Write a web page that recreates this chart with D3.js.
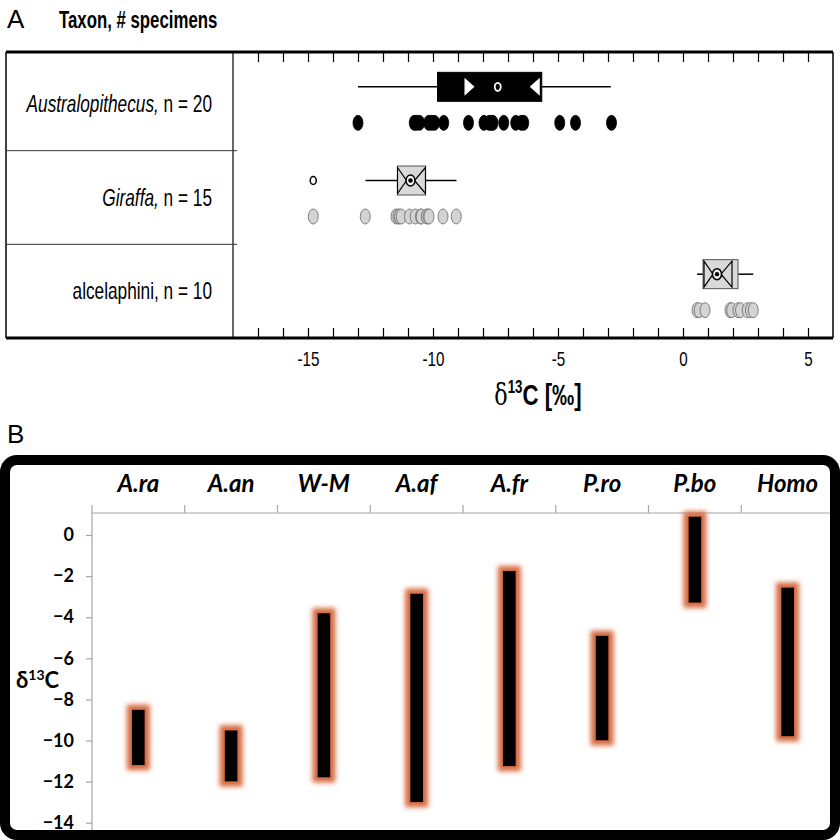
<!DOCTYPE html>
<html>
<head>
<meta charset="utf-8">
<script src="https://cdn.jsdelivr.net/npm/d3@7"></script>
<style>
  body { margin: 0; background: #fff; }
  svg { display: block; }
  .narrow { font-family: "Liberation Sans", Arial, sans-serif; }
  .cal { font-family: Lato, "Open Sans", sans-serif; }
</style>
</head>
<body>
<svg id="chart" width="840" height="840"></svg>
<script>
// ---- panel A data ----
var taxa = ["Australopithecus", "Giraffa", "alcelaphini"];
var taxaItalic = [true, true, false];
var nSpecimens = [20, 15, 10];
var whiskerLo = [-13.0, -12.7, 0.56];
var boxLo = [-9.82, -11.42, 0.80];
var median = [-7.41, -10.90, 1.36];
var boxHi = [-5.65, -10.30, 2.20];
var whiskerHi = [-2.89, -9.06, 2.81];
var notchLo = [-8.82, -11.42, 0.84];
var notchHi = [-5.65, -10.30, 1.96];
var outliers = [[], [-14.79], []];
var australopithecusVals = [-13.0, -10.75, -10.67, -10.54, -10.17, -10.05, -9.94, -9.57, -8.58, -7.96,
  -7.75, -7.67, -7.60, -7.17, -6.69, -6.47, -6.37, -4.93, -4.30, -2.86];
var giraffaVals = [-14.79, -12.71, -11.48, -11.40, -11.34, -11.27, -10.94, -10.71, -10.50, -10.47,
  -10.27, -10.20, -10.16, -9.60, -9.07];
var alcelaphiniVals = [0.56, 0.65, 0.88, 1.88, 1.95, 2.20, 2.30, 2.57, 2.70, 2.81];
var pointSets = [australopithecusVals, giraffaVals, alcelaphiniVals];
var xTickLabels = [-15, -10, -5, 0, 5];

// ---- panel B data ----
var groups = ["A.ra", "A.an", "W-M", "A.af", "A.fr", "P.ro", "P.bo", "Homo"];
var rangeTop = [-8.5, -9.5, -3.8, -2.85, -1.75, -4.9, 0.9, -2.55];
var rangeBottom = [-11.2, -12.0, -11.8, -13.0, -11.25, -10.0, -3.3, -9.8];
var yTicksB = [0, -2, -4, -6, -8, -10, -12, -14];

var svg = d3.select("#chart");

// condensed text: no narrow font installed, so squeeze horizontally
function narrowText(parent, x, y, anchor, size, sx) {
  return parent.append("g").attr("transform", "translate(" + x + "," + y + ") scale(" + sx + ",1)")
    .append("text").attr("class", "narrow").attr("text-anchor", anchor).style("font-size", size + "px");
}

// =========== PANEL A ===========
var aLeft = 6, aDiv = 233, aRight = 833, aTop = 52, aBottom = 338;

var x = d3.scaleLinear().domain([-18, 6]).range([aDiv, aRight]);
var rows = d3.scaleBand().domain(taxa).range([57, aBottom]);
var boxY = function (t) { return rows(t) + rows.bandwidth() / 2 - 17; };
var dotY = function (t) { return rows(t) + rows.bandwidth() / 2 + 19; };

svg.append("text").attr("x", 7).attr("y", 28)
  .style("font-family", "Liberation Sans, sans-serif").style("font-size", "26px").text("A");
narrowText(svg, 59, 28, "start", 24, 0.7).style("font-weight", "bold").text("Taxon, # specimens");

var gA = svg.append("g");

// frame
gA.append("line").attr("x1", aLeft).attr("x2", aRight).attr("y1", aTop).attr("y2", aTop)
  .attr("stroke", "#000").attr("stroke-width", 3);
gA.append("line").attr("x1", aLeft).attr("x2", aRight).attr("y1", aBottom).attr("y2", aBottom)
  .attr("stroke", "#000").attr("stroke-width", 3);
gA.append("line").attr("x1", aLeft).attr("x2", aLeft).attr("y1", aTop).attr("y2", aBottom)
  .attr("stroke", "#000").attr("stroke-width", 1.5);
gA.append("line").attr("x1", aRight).attr("x2", aRight).attr("y1", aTop).attr("y2", aBottom)
  .attr("stroke", "#000").attr("stroke-width", 1.5);
gA.append("line").attr("x1", aDiv).attr("x2", aDiv).attr("y1", aTop).attr("y2", aBottom)
  .attr("stroke", "#000").attr("stroke-width", 1.2);

// row separators
taxa.slice(1).forEach(function (t) {
  gA.append("line").attr("x1", aLeft).attr("x2", aDiv + 4)
    .attr("y1", rows(t)).attr("y2", rows(t)).attr("stroke", "#333").attr("stroke-width", 1);
});

// ticks top and bottom
var xAxisBottom = d3.axisBottom(x).tickValues(d3.range(-17, 6)).tickSize(-10)
  .tickFormat(function (d) { return xTickLabels.indexOf(d) >= 0 ? d : ""; }).tickPadding(14);
var xb = gA.append("g").attr("transform", "translate(0," + aBottom + ")").call(xAxisBottom);
xb.select(".domain").remove();
xb.selectAll(".tick line").attr("stroke", "#000").attr("stroke-width", 1.2);
xb.selectAll(".tick text").attr("class", "narrow").style("font-size", "20px").attr("fill", "#000")
  .attr("transform", "scale(0.76,1)");

var xAxisTop = d3.axisTop(x).tickValues(d3.range(-17, 6)).tickSize(-10).tickFormat("");
var xt = gA.append("g").attr("transform", "translate(0," + aTop + ")").call(xAxisTop);
xt.select(".domain").remove();
xt.selectAll(".tick line").attr("stroke", "#000").attr("stroke-width", 1.2);

// axis title
var title = narrowText(gA, x(-5.8), 405, "middle", 30, 0.74).style("font-weight", "bold");
title.append("tspan").style("font-weight", "normal").style("font-family", "DejaVu Serif, serif").text("δ");
title.append("tspan").attr("dy", -12).style("font-size", "18px").text("13");
title.append("tspan").attr("dy", 12).text("C [‰]");

// row labels
taxa.forEach(function (t, i) {
  var lab = narrowText(gA, 212, rows(t) + rows.bandwidth() / 2 + 8, "end", 23, 0.75);
  lab.append("tspan").style("font-style", taxaItalic[i] ? "italic" : "normal").text(t + ",");
  lab.append("tspan").text("  n = " + nSpecimens[i]);
});

// points
taxa.forEach(function (t, i) {
  var dark = i === 0;
  gA.selectAll(null).data(pointSets[i]).enter().append("ellipse")
    .attr("cx", function (d) { return x(d); }).attr("cy", dotY(t))
    .attr("rx", 5).attr("ry", 7.5)
    .attr("fill", dark ? "#000" : "#d3d3d3")
    .attr("stroke", dark ? "#000" : "#666").attr("stroke-width", 0.8);
});

// boxplots
var boxH = 29;
taxa.forEach(function (t, i) {
  var cy = boxY(t);
  var dark = i === 0;
  var g = gA.append("g");
  g.append("line").attr("x1", x(whiskerLo[i])).attr("x2", x(boxLo[i]))
    .attr("y1", cy).attr("y2", cy).attr("stroke", "#000").attr("stroke-width", 1.5);
  g.append("line").attr("x1", x(boxHi[i])).attr("x2", x(whiskerHi[i]))
    .attr("y1", cy).attr("y2", cy).attr("stroke", "#000").attr("stroke-width", 1.5);
  g.append("rect").attr("x", x(boxLo[i])).attr("y", cy - boxH / 2)
    .attr("width", x(boxHi[i]) - x(boxLo[i])).attr("height", boxH)
    .attr("fill", dark ? "#000" : "#d9d9d9").attr("stroke", dark ? "#000" : "#555").attr("stroke-width", 1);

  // notch triangles
  var xm = x(median[i]);
  [[notchLo[i], 1], [notchHi[i], -1]].forEach(function (n) {
    var xn = x(n[0]) + (dark ? n[1] * 2 : 0);
    var w = dark ? 10 : Math.abs(xm - xn) - 4;
    var h = dark ? 9 : boxH / 2 - 1.5;
    g.append("path")
      .attr("d", "M" + xn + "," + (cy - h) + "L" + (xn + n[1] * w) + "," + cy + "L" + xn + "," + (cy + h) + "Z")
      .attr("fill", dark ? "#fff" : "none").attr("stroke", dark ? "none" : "#000").attr("stroke-width", 1.2);
  });

  if (dark) {
    g.append("ellipse").attr("cx", xm).attr("cy", cy).attr("rx", 3).attr("ry", 4)
      .attr("fill", "none").attr("stroke", "#fff").attr("stroke-width", 1.8);
  } else {
    g.append("ellipse").attr("cx", xm).attr("cy", cy).attr("rx", 4.5).attr("ry", 5.5)
      .attr("fill", "#f2f2f2").attr("stroke", "#000").attr("stroke-width", 1.5);
    g.append("circle").attr("cx", xm).attr("cy", cy).attr("r", 2.2).attr("fill", "#000");
  }

  outliers[i].forEach(function (o) {
    g.append("ellipse").attr("cx", x(o)).attr("cy", cy).attr("rx", 3).attr("ry", 4)
      .attr("fill", "#fff").attr("stroke", "#000").attr("stroke-width", 1.5);
  });
});

// =========== PANEL B ===========
svg.append("text").attr("x", 7).attr("y", 443)
  .style("font-family", "Liberation Sans, sans-serif").style("font-size", "26px").text("B");

var defs = svg.append("defs");
var glow = defs.append("filter").attr("id", "glow")
  .attr("x", "-150%").attr("y", "-30%").attr("width", "400%").attr("height", "160%");
glow.append("feMorphology").attr("in", "SourceAlpha").attr("operator", "dilate").attr("radius", 5).attr("result", "dil");
glow.append("feGaussianBlur").attr("in", "dil").attr("stdDeviation", 2.6).attr("result", "blur");
glow.append("feFlood").attr("flood-color", "#d5693f").attr("result", "col");
glow.append("feComposite").attr("in", "col").attr("in2", "blur").attr("operator", "in").attr("result", "glowc");
var merge = glow.append("feMerge");
merge.append("feMergeNode").attr("in", "glowc");
merge.append("feMergeNode").attr("in", "SourceGraphic");

var bLeft = 92, bRight = 834, bTop = 513, bBottom = 830;
var xb2 = d3.scaleBand().domain(groups).range([bLeft, bRight]);
var yb = d3.scaleLinear().domain([0, -14]).range([535, 822.7]);

var gB = svg.append("g");

// top category axis
gB.append("line").attr("x1", bLeft).attr("x2", bRight).attr("y1", bTop).attr("y2", bTop)
  .attr("stroke", "#a6a6a6").attr("stroke-width", 1.2);
gB.selectAll(null).data(groups).enter().append("line")
  .attr("x1", function (d) { return xb2(d); }).attr("x2", function (d) { return xb2(d); })
  .attr("y1", bTop - 8).attr("y2", bTop).attr("stroke", "#a6a6a6").attr("stroke-width", 1.2);
gB.selectAll(null).data(groups).enter().append("text").attr("class", "cal")
  .attr("x", function (d) { return xb2(d) + xb2.bandwidth() / 2; }).attr("y", 492)
  .attr("text-anchor", "middle").style("font-size", "24px").style("font-weight", "bold")
  .style("font-style", "italic").text(function (d) { return d; });

// y axis
var yAxisB = d3.axisLeft(yb).tickValues(yTicksB).tickSize(6).tickPadding(12);
var ya = gB.append("g").attr("transform", "translate(" + bLeft + ",0)").call(yAxisB);
ya.select(".domain").remove();
ya.append("line").attr("x1", 0).attr("x2", 0).attr("y1", bTop).attr("y2", bBottom)
  .attr("stroke", "#a6a6a6").attr("stroke-width", 1.2);
ya.selectAll(".tick line").attr("stroke", "#a6a6a6").attr("stroke-width", 1.2);
ya.selectAll(".tick text").attr("class", "cal").attr("fill", "#000")
  .style("font-size", "18px").style("font-weight", "bold");

var ylab = gB.append("text").attr("class", "cal").attr("x", 16).attr("y", 688)
  .style("font-size", "22px").style("font-weight", "bold");
ylab.append("tspan").text("δ");
ylab.append("tspan").attr("dy", -8).style("font-size", "14px").text("13");
ylab.append("tspan").attr("dy", 8).text("C");

// bars
var barW = 13;
gB.selectAll(null).data(groups).enter().append("rect")
  .attr("x", function (d) { return xb2(d) + xb2.bandwidth() / 2 - barW / 2; })
  .attr("y", function (d, i) { return yb(rangeTop[i]); })
  .attr("width", barW)
  .attr("height", function (d, i) { return yb(rangeBottom[i]) - yb(rangeTop[i]); })
  .attr("fill", "#000").attr("filter", "url(#glow)");

// thick rounded frame
svg.append("rect").attr("x", 5).attr("y", 460).attr("width", 830).attr("height", 375)
  .attr("rx", 12).attr("fill", "none").attr("stroke", "#000").attr("stroke-width", 10);
</script>
</body>
</html>
